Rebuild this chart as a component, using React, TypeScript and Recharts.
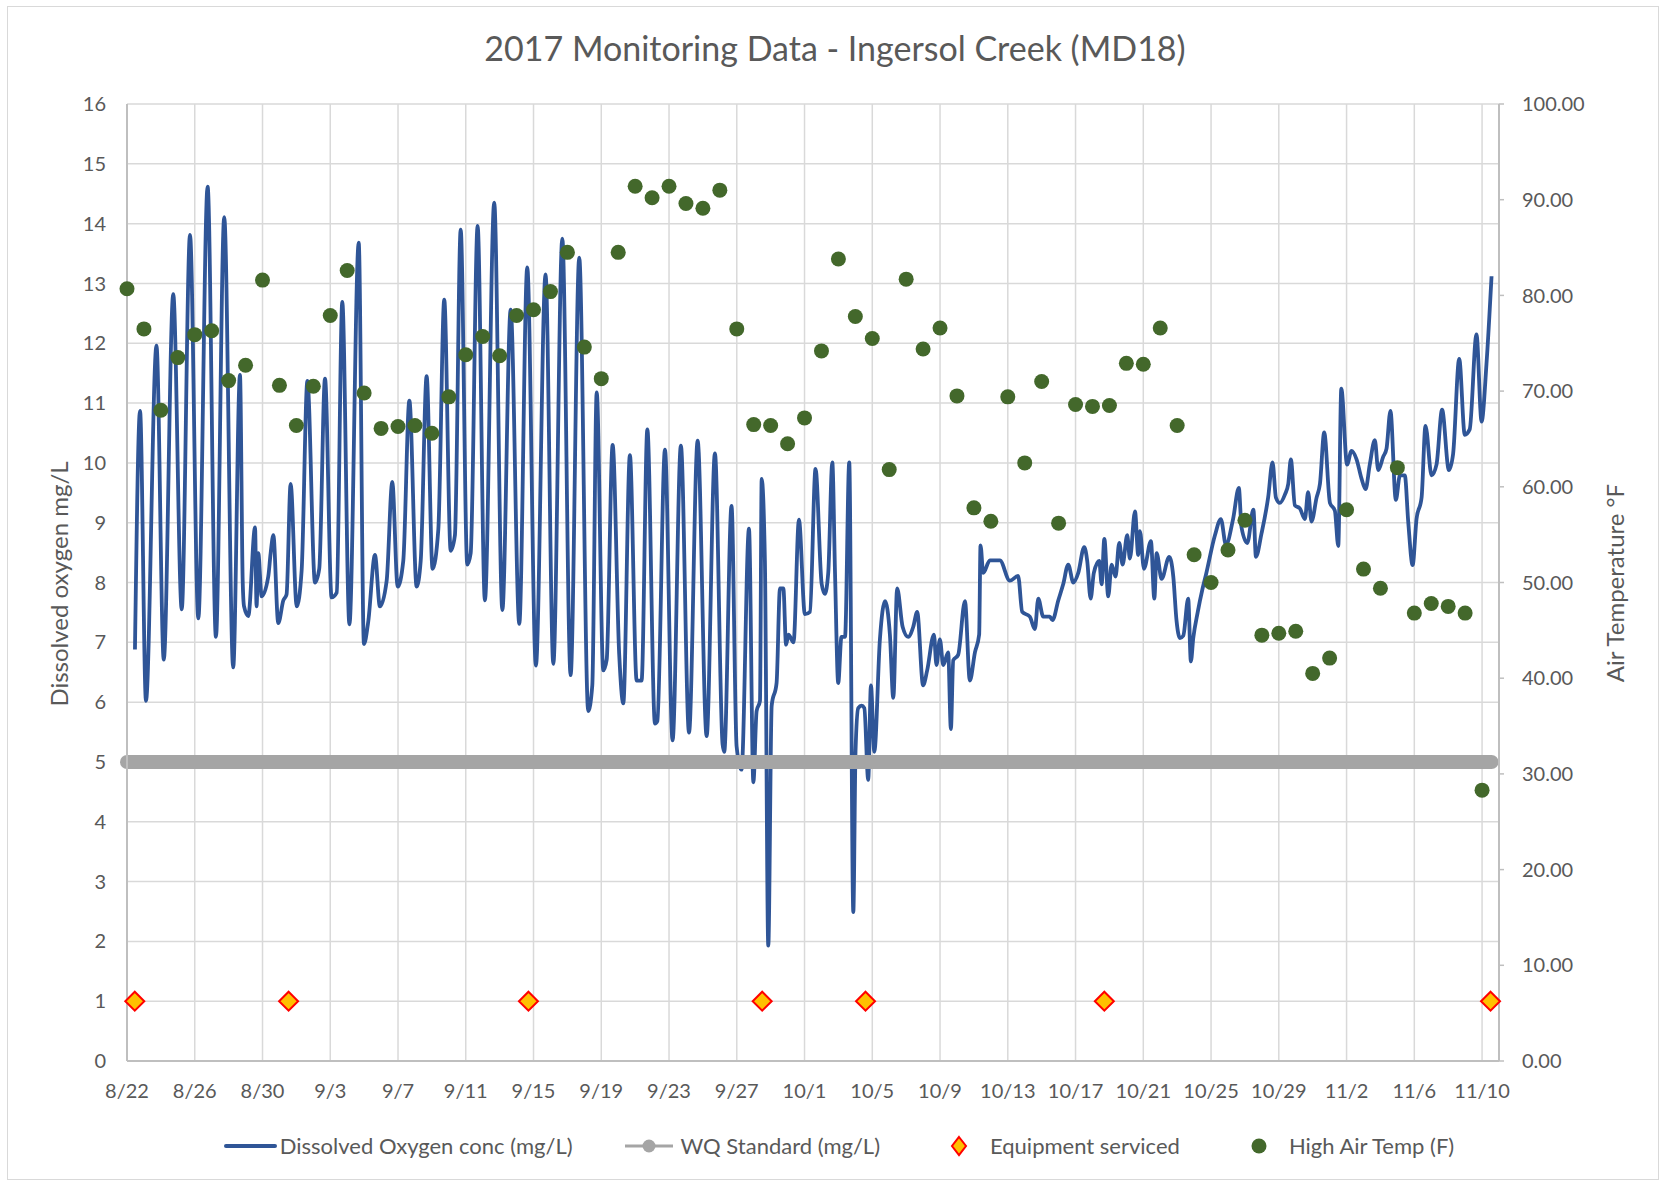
import {
  ComposedChart,
  Line,
  Scatter,
  XAxis,
  YAxis,
  CartesianGrid,
  Legend,
} from 'recharts';

// x is days since 8/22/2017
const tickLabels = [
  '8/22', '8/26', '8/30', '9/3', '9/7', '9/11', '9/15', '9/19', '9/23', '9/27', '10/1',
  '10/5', '10/9', '10/13', '10/17', '10/21', '10/25', '10/29', '11/2', '11/6', '11/10',
];
const tickDays = tickLabels.map((_, i) => i * 4);

const leftTicks = [0, 1, 2, 3, 4, 5, 6, 7, 8, 9, 10, 11, 12, 13, 14, 15, 16];
const rightTicks = [0, 10, 20, 30, 40, 50, 60, 70, 80, 90, 100];

const doDays = [
  0.47, 0.77, 1.12, 1.74, 2.17, 2.73, 3.23, 3.72, 4.21, 4.76, 5.25, 5.74, 6.27, 6.67, 6.83, 6.91,
  7.16, 7.56, 7.65, 7.75, 7.95, 8.34, 8.48, 8.64, 8.93, 9.23, 9.42, 9.66, 10.02, 10.31, 10.65,
  11.1, 11.35, 11.69, 12.08, 12.38, 12.71, 13.13, 13.68, 13.99, 14.24, 14.64, 14.93, 15.33, 15.66,
  15.98, 16.31, 16.67, 17.1, 17.34, 17.69, 18.04, 18.38, 18.73, 19.11, 19.36, 19.7, 20.09, 20.29,
  20.7, 21.13, 21.68, 22.16, 22.65, 23.16, 23.63, 24.14, 24.71, 25.17, 25.7, 26.19, 26.7, 27.23,
  27.47, 27.73, 28.12, 28.32, 28.67, 29.06, 29.3, 29.69, 30.09, 30.38, 30.72, 31.17, 31.31, 31.76,
  32.21, 32.7, 33.18, 33.69, 34.22, 34.71, 35.16, 35.26, 35.69, 35.99, 36.28, 36.72, 36.98, 37.17,
  37.37, 37.47, 37.66, 37.86, 38.06, 38.35, 38.55, 38.75, 38.91, 39.05, 39.35, 39.67, 40.02, 40.32,
  40.65, 41.01, 41.2, 41.4, 41.64, 41.8, 41.99, 42.18, 42.39, 42.64, 42.88, 43.01, 43.17, 43.37,
  43.53, 43.76, 43.92, 44.12, 44.45, 44.75, 45.04, 45.24, 45.47, 45.79, 46.12, 46.42, 46.65, 47.0,
  47.24, 47.64, 47.79, 47.99, 48.19, 48.48, 48.64, 48.78, 49.07, 49.47, 49.76, 50.06, 50.31, 50.39,
  50.55, 50.94, 51.53, 52.12, 52.61, 52.85, 53.3, 53.6, 53.8, 54.09, 54.48, 54.64, 54.98, 55.27,
  55.57, 55.87, 56.16, 56.51, 56.69, 56.89, 57.08, 57.4, 57.54, 57.7, 57.93, 58.13, 58.36, 58.58,
  58.78, 59.05, 59.21, 59.51, 59.7, 59.8, 60.04, 60.45, 60.65, 60.79, 61.08, 61.53, 61.77, 61.96,
  62.16, 62.36, 62.65, 62.81, 62.95, 63.21, 63.5, 63.7, 64.23, 64.58, 64.88, 65.3, 65.64, 65.8,
  66.14, 66.5, 66.65, 66.98, 67.37, 67.63, 67.83, 68.06, 68.36, 68.56, 68.71, 68.95, 69.24, 69.54,
  69.73, 69.93, 70.23, 70.43, 70.68, 71.02, 71.31, 71.51, 71.69, 72.03, 72.29, 72.59, 72.88, 73.12,
  73.37, 73.67, 73.87, 74.16, 74.36, 74.59, 74.91, 75.15, 75.44, 75.64, 75.9, 76.13, 76.43, 76.66,
  77.02, 77.31, 77.64, 78.04, 78.29, 78.65, 78.98, 79.27, 79.67, 79.97, 80.26, 80.56,
];
const doConc = [
  6.88, 10.87, 6.02, 11.96, 6.71, 12.82, 7.55, 13.81, 7.4, 14.62, 7.09, 14.11, 6.58, 11.47, 8.03, 7.6,
  7.44, 8.92, 7.6, 8.49, 7.77, 8.1, 8.49, 8.79, 7.32, 7.7, 7.8, 9.65, 7.6, 8.2, 11.37,
  8.0, 8.23, 11.41, 7.75, 7.83, 12.69, 7.3, 13.68, 6.97, 7.34, 8.46, 7.6, 8.03, 9.68,
  7.93, 8.36, 11.04, 7.93, 8.36, 11.45, 8.23, 8.89, 12.73, 8.53, 8.79, 13.9, 8.3, 8.49,
  13.96, 7.7, 14.35, 7.54, 12.56, 7.31, 13.27, 6.61, 13.15, 6.64, 13.75, 6.45, 13.43, 5.85,
  6.28, 11.18, 6.53, 6.71, 10.3, 6.79, 5.98, 10.13, 6.36, 6.36, 10.56, 5.64, 5.68, 10.22,
  5.36, 10.29, 5.49, 10.37, 5.43, 10.16, 5.3, 5.17, 9.28, 5.26, 4.87, 8.9, 4.66, 5.85,
  6.02, 9.73, 8.37, 1.93, 5.94, 6.32, 7.9, 7.9, 6.96, 7.13, 7.0, 9.05, 7.47, 7.51,
  9.9, 7.98, 7.81, 8.16, 10.01, 8.16, 6.32, 7.09, 7.09, 10.01, 2.49, 5.17, 5.9, 5.94,
  5.9, 4.7, 6.28, 5.17, 7.05, 7.69, 7.13, 6.07, 7.9, 7.26, 7.09, 7.26, 7.51, 6.28,
  6.53, 7.13, 6.62, 7.05, 6.62, 6.83, 5.55, 6.7, 6.79, 7.69, 6.36, 6.83, 7.13, 8.62,
  8.16, 8.37, 8.37, 8.03, 8.11, 7.51, 7.43, 7.22, 7.73, 7.43, 7.43, 7.37, 7.7, 7.97,
  8.3, 8.0, 8.16, 8.59, 8.36, 7.73, 8.16, 8.36, 7.97, 8.73, 7.77, 8.3, 8.1, 8.66,
  8.3, 8.79, 8.4, 9.19, 8.46, 8.86, 8.23, 8.69, 7.73, 8.49, 8.06, 8.43, 8.1, 7.37,
  7.07, 7.11, 7.73, 6.68, 7.07, 7.5, 7.9, 8.13, 8.79, 9.06, 8.63, 9.06, 9.58, 8.92,
  8.66, 9.22, 8.43, 8.82, 9.42, 10.01, 9.42, 9.33, 9.47, 9.65, 10.06, 9.29, 9.24, 9.06,
  9.51, 9.02, 9.42, 9.65, 10.51, 9.33, 9.2, 8.61, 11.24, 9.97, 10.2, 10.06, 9.74, 9.56,
  9.97, 10.38, 9.88, 10.1, 10.24, 10.87, 9.38, 9.79, 9.79, 9.02, 8.29, 9.06, 9.42, 10.62,
  9.79, 9.97, 10.89, 9.88, 10.15, 11.74, 10.47, 10.56, 12.15, 10.69, 11.65, 13.12,
];

// daily high air temp (F), one per day from 8/22
const highAirTemp = [
  80.7, 76.5, 68.0, 73.5, 75.9, 76.3, 71.1, 72.7, 81.6, 70.6,
  66.4, 70.5, 77.9, 82.6, 69.8, 66.1, 66.3, 66.4, 65.6, 69.4,
  73.8, 75.7, 73.7, 77.9, 78.5, 80.4, 84.5, 74.6, 71.3, 84.5,
  91.4, 90.2, 91.4, 89.6, 89.1, 91.0, 76.5, 66.5, 66.4, 64.5,
  67.2, 74.2, 83.8, 77.8, 75.5, 61.8, 81.7, 74.4, 76.6, 69.5,
  57.8, 56.4, 69.4, 62.5, 71.0, 56.2, 68.6, 68.4, 68.5, 72.9,
  72.8, 76.6, 66.4, 52.9, 50.0, 53.4, 56.5, 44.5, 44.7, 44.9,
  40.5, 42.1, 57.6, 51.4, 49.4, 62.0, 46.8, 47.8, 47.5, 46.8,
  28.3,
];

const servicedDays = [0.46, 9.54, 23.7, 37.5, 43.6, 57.7, 80.5];
const servicedLevel = 1;

const wqStandard = 5;
const wqSpan = [0, 80.56];

const doData = doDays.map((t, i) => ({ t, v: doConc[i] }));
const tempData = highAirTemp.map((v, i) => ({ t: i, v }));
const servicedData = servicedDays.map((t) => ({ t, v: servicedLevel }));
const wqData = wqSpan.map((t) => ({ t, v: wqStandard }));

const FONT = 'Lato, "Open Sans", sans-serif';
const TEXT = '#595959';
const DO_BLUE = '#2F5597';
const GREEN = '#43682B';

const Diamond = (props: any) => {
  const { cx, cy } = props;
  const r = 9.5;
  return (
    <polygon
      points={`${cx},${cy - r} ${cx + r},${cy} ${cx},${cy + r} ${cx - r},${cy}`}
      fill="#FFC000"
      stroke="#FF0000"
      strokeWidth={2}
    />
  );
};

const Dot = (props: any) => {
  const { cx, cy } = props;
  return <circle cx={cx} cy={cy} r={7.5} fill={GREEN} />;
};

const LegendBox = () => (
  <div
    style={{
      display: 'flex',
      justifyContent: 'center',
      alignItems: 'center',
      fontFamily: FONT,
      fontSize: 22,
      color: TEXT,
      whiteSpace: 'nowrap',
      paddingLeft: 14,
    }}
  >
    <svg width={55} height={20}>
      <line x1={3} y1={10} x2={52} y2={10} stroke={DO_BLUE} strokeWidth={4} strokeLinecap="round" />
    </svg>
    <span style={{ marginLeft: 2, marginRight: 50 }}>Dissolved Oxygen conc (mg/L)</span>
    <svg width={52} height={20}>
      <line x1={2} y1={10} x2={50} y2={10} stroke="#A5A5A5" strokeWidth={3} />
      <circle cx={26} cy={10} r={6.5} fill="#A5A5A5" />
    </svg>
    <span style={{ marginLeft: 6, marginRight: 68 }}>WQ Standard (mg/L)</span>
    <svg width={22} height={22}>
      <polygon points="11,2 18,11 11,20 4,11" fill="#FFC000" stroke="#FF0000" strokeWidth={2} />
    </svg>
    <span style={{ marginLeft: 20, marginRight: 70 }}>Equipment serviced</span>
    <svg width={18} height={20}>
      <circle cx={9} cy={10} r={7.5} fill={GREEN} />
    </svg>
    <span style={{ marginLeft: 21 }}>High Air Temp (F)</span>
  </div>
);

export default function App() {
  return (
    <div style={{ position: 'absolute', left: 0, top: 0, width: 1663, height: 1183, background: '#fff' }}>
      <div
        style={{
          position: 'absolute',
          left: 7,
          top: 6,
          width: 1650,
          height: 1172,
          border: '1px solid #d9d9d9',
        }}
      />
      <div
        style={{
          position: 'absolute',
          left: 0,
          width: 1670,
          top: 27,
          textAlign: 'center',
          fontFamily: FONT,
          fontSize: 34,
          color: TEXT,
        }}
      >
        2017 Monitoring Data - Ingersol Creek (MD18)
      </div>
      <div
        style={{
          position: 'absolute',
          left: 58,
          top: 584,
          transform: 'translate(-50%, -50%) rotate(-90deg)',
          fontFamily: FONT,
          fontSize: 24,
          color: TEXT,
          whiteSpace: 'nowrap',
        }}
      >
        Dissolved oxygen mg/L
      </div>
      <div
        style={{
          position: 'absolute',
          left: 1614,
          top: 583,
          transform: 'translate(-50%, -50%) rotate(-90deg)',
          fontFamily: FONT,
          fontSize: 24,
          color: TEXT,
          whiteSpace: 'nowrap',
        }}
      >
        Air Temperature °F
      </div>
      <ComposedChart
        width={1663}
        height={1183}
        margin={{ top: 104, left: 67, right: 84, bottom: 82 }}
        style={{ position: 'absolute', left: 0, top: 0 }}
      >
        <CartesianGrid yAxisId="left" stroke="#d9d9d9" strokeWidth={1.5} />
        <XAxis
          type="number"
          dataKey="t"
          domain={[0, 81]}
          ticks={tickDays}
          tickFormatter={(d: number) => tickLabels[Math.round(d / 4)]}
          interval={0}
          height={40}
          tickLine={false}
          tickSize={0}
          tickMargin={23}
          axisLine={{ stroke: '#bfbfbf', strokeWidth: 2 }}
          tick={{ fill: TEXT, fontSize: 20, fontFamily: FONT }}
        />
        <YAxis
          yAxisId="left"
          domain={[0, 16]}
          ticks={leftTicks}
          interval={0}
          width={60}
          tickLine={false}
          tickSize={0}
          tickMargin={21}
          axisLine={{ stroke: '#bfbfbf', strokeWidth: 2 }}
          tick={{ fill: TEXT, fontSize: 20, fontFamily: FONT }}
        />
        <YAxis
          yAxisId="right"
          orientation="right"
          domain={[0, 100]}
          ticks={rightTicks}
          interval={0}
          width={80}
          tickSize={5}
          tickMargin={18}
          tickLine={{ stroke: '#bfbfbf', strokeWidth: 1.5 }}
          axisLine={{ stroke: '#bfbfbf', strokeWidth: 2 }}
          tickFormatter={(v: number) => v.toFixed(2)}
          tick={{ fill: TEXT, fontSize: 20, fontFamily: FONT }}
        />
        <Line
          yAxisId="left"
          data={doData}
          dataKey="v"
          type="monotone"
          stroke={DO_BLUE}
          strokeWidth={3.8}
          dot={false}
          isAnimationActive={false}
        />
        <Line
          yAxisId="left"
          data={wqData}
          dataKey="v"
          type="linear"
          stroke="#A5A5A5"
          strokeWidth={14}
          strokeLinecap="round"
          dot={false}
          isAnimationActive={false}
        />
        <Scatter
          yAxisId="left"
          data={servicedData}
          dataKey="v"
          shape={Diamond}
          isAnimationActive={false}
        />
        <Scatter
          yAxisId="right"
          data={tempData}
          dataKey="v"
          shape={Dot}
          isAnimationActive={false}
        />
        <Legend
          content={LegendBox}
          layout="horizontal"
          verticalAlign="middle"
          align="center"
          wrapperStyle={{ left: 0, top: 1132, width: 1663 }}
        />
      </ComposedChart>
    </div>
  );
}
